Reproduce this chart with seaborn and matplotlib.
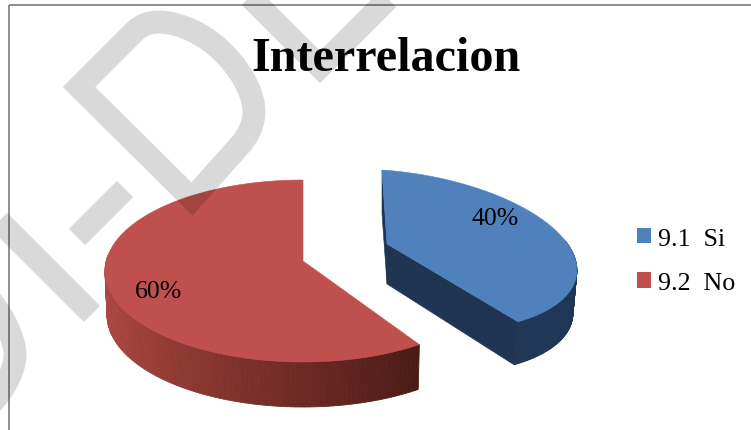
import numpy as np
import matplotlib
matplotlib.use("Agg")
import matplotlib.pyplot as plt
import seaborn as sns
from matplotlib.patches import Patch, PathPatch
from matplotlib.path import Path

# Data
title = "Interrelacion"
categories = ["9.1  Si", "9.2  No"]
values = [40, 60]
labels = ["40%", "60%"]

sns.set_theme(style="white")
plt.rcParams["font.family"] = ["Liberation Serif", "DejaVu Serif"]
palette = sns.color_palette(["#4F81BD", "#C0504D"])

W, H = 751, 431
fig = plt.figure(figsize=(W / 100, H / 100), dpi=100)
ax = fig.add_axes([0, 0, 1, 1])
ax.set_xlim(0, W)
ax.set_ylim(H, 0)
ax.axis("off")


def ell(centre, u, v):
    """Screen ellipse of a tilted pie: angle t maps to centre + u cos t + v sin t."""
    centre, u, v = map(np.asarray, (centre, u, v))

    def f(t_deg):
        t = np.radians(np.atleast_1d(t_deg))[:, None]
        return centre + u * np.cos(t) + v * np.sin(t)
    return f


# Slice angles come from the values (clockwise from 12 o'clock)
start = 90
split = start - 360 * values[0] / sum(values)

blue_top = ell((400, 251), (176, 12), (-18, -80))
blue_bot = ell((396, 294), (176, 12), (-18, -80))
red_top = ell((303, 272), (198, 0), (0, -91))
red_bot = ell((303, 316), (196, 0), (0, -92))
blue_apex, blue_apex_low = np.array((387, 245)), np.array((387, 285))
blue_side_low = np.array((382, 215))
red_apex = np.array((303, 262))


def lerp_color(stops, f):
    xs = np.linspace(0, 1, len(stops))
    rgb = np.array([matplotlib.colors.to_rgb(c) for c in stops])
    return tuple(np.interp(f, xs, rgb[:, i]) for i in range(3))


def wall(top, bot, t0, t1, stops, z, n=100):
    ts = np.linspace(t0, t1, n + 1)
    a, b = top(ts), bot(ts)
    for i in range(n):
        c = lerp_color(stops, i / (n - 1))
        ax.fill([a[i, 0], a[i + 1, 0], b[i + 1, 0], b[i, 0]],
                [a[i, 1], a[i + 1, 1], b[i + 1, 1], b[i, 1]],
                color=c, lw=0.6, zorder=z)


def face(top, apex, t0, t1, color, z):
    pts = np.vstack([apex, top(np.linspace(t0, t1, 160))])
    ax.fill(pts[:, 0], pts[:, 1], color=color, lw=0.4, zorder=z)


# Red slice
wall(red_top, red_bot, 170, 360 + split,
     ["#B54A46", "#A5433F", "#8A3731", "#6B2924", "#4A1B16"], 2)
face(red_top, red_apex, split, start - 360, palette[1], 3)

# Blue slice
wall(blue_top, blue_bot, split, 15, ["#1F3654", "#1F3654"], 2)
t0, t1 = blue_top(split)[0], blue_bot(split)[0]
ax.fill([blue_apex[0], t0[0], t1[0], blue_apex_low[0]], [blue_apex[1], t0[1], t1[1], blue_apex_low[1]],
        color="#1F3552", lw=0.4, zorder=2.5)
s0 = blue_top(start)[0]
ax.fill([blue_apex[0], s0[0], blue_side_low[0], blue_apex_low[0]],
        [blue_apex[1], s0[1], blue_side_low[1], blue_apex_low[1]],
        color="#1F3552", lw=0.4, zorder=2.4)
face(blue_top, blue_apex, split, start, palette[0], 3)

# Chart frame
for xs, ys in [((9, 9), (431, 6)), ((9, 751), (6, 6))]:
    ax.plot(xs, ys, color="#868686", lw=1.3, zorder=1, solid_capstyle="butt")

# Text
ax.text(386, 59, title, ha="center", va="center", fontsize=34.7, fontweight="bold", color="black", zorder=6)
ax.text(495, 219, labels[0], ha="center", va="center", fontsize=18.5, color="black", zorder=6)
ax.text(158, 292, labels[1], ha="center", va="center", fontsize=18.5, color="black", zorder=6)

handles = [Patch(facecolor=palette[i], edgecolor="none", label=categories[i]) for i in range(2)]
fig.legend(handles=handles, loc="center left", bbox_to_anchor=(637 / W, 1 - 262 / H), frameon=False,
           fontsize=18.7, handlelength=0.54, handleheight=0.54, handletextpad=0.25,
           labelspacing=0.88, borderpad=0, borderaxespad=0, labelcolor="black")


# Watermark: translucent black reads as light gray on white and darkens the slices
def stroke(verts, codes=None):
    ax.add_patch(PathPatch(Path(verts, codes), fill=False, edgecolor="black", alpha=0.15, lw=16.5,
                           capstyle="butt", joinstyle="miter", zorder=5))


M, L, C4, Z = Path.MOVETO, Path.LINETO, Path.CURVE4, Path.CLOSEPOLY
stroke([(79, 88), (135, 32), (147, 20), (168, 20), (193, 32), (225, 47), (254, 85), (254, 113),
        (254, 125), (248, 137), (241, 145), (192, 200), (79, 88)],
       [M, L, C4, C4, C4, C4, C4, C4, C4, C4, C4, L, Z])
stroke([(125, 190), (77, 238)])
stroke([(-10, 213), (92, 315)])
stroke([(-12, 298), (8, 322), (15, 345), (15, 355), (15, 368), (8, 388), (-12, 408)], [M, C4, C4, C4, C4, C4, C4])
stroke([(388, 0), (320, 68), (258, 6), (275, -11)])

fig.savefig("out.png", dpi=100, facecolor="white")
